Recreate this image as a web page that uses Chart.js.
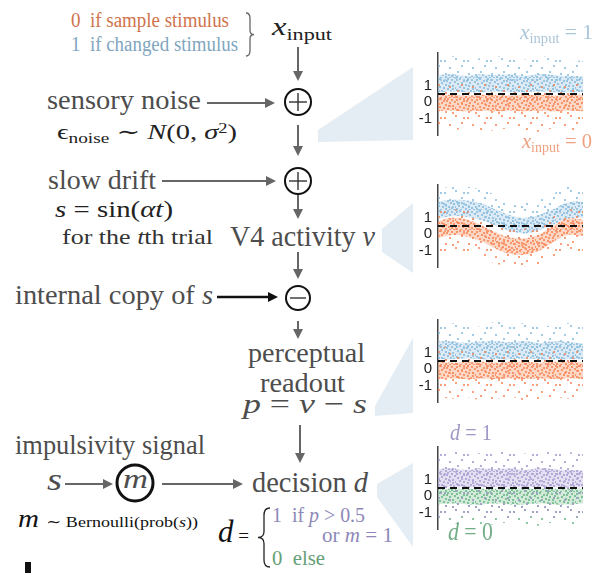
<!DOCTYPE html>
<html>
<head>
<meta charset="utf-8">
<script src="https://cdn.jsdelivr.net/npm/chart.js"></script>
<style>
  body { margin: 0; background: #fff; }
  #stage { position: relative; width: 602px; height: 573px; overflow: hidden; }
  #stage svg { position: absolute; left: 0; top: 0; }
  #stage canvas { position: absolute; left: 396px; }
  .lbl { position: absolute; white-space: nowrap; line-height: 1; font-family: 'Liberation Serif', 'DejaVu Serif', serif; transform-origin: 0 0; }
  .sb { font-size: 0.68em; position: relative; top: 0.28em; }
  .sp { font-size: 0.65em; position: relative; top: -0.45em; }
  .sm { font-size: 0.62em; }
</style>
</head>
<body>
<div id="stage">
  <svg width="602" height="573">
    <!-- light funnels toward the panels -->
    <polygon points="318,130 413,67 413,140 318,142" fill="#e4edf3"/>
    <polygon points="413,203 382,229 382,252 413,273" fill="#e4edf3"/>
    <polygon points="375,406 413,338 413,413 375,416" fill="#e4edf3"/>
    <polygon points="413,463 377,484 377,497 413,547" fill="#e4edf3"/>
    <g id="arrows"></g>
    <!-- sum / diff nodes -->
    <g fill="none" stroke="#111" stroke-width="2">
      <circle cx="298" cy="102" r="13"/>
      <circle cx="298" cy="181" r="13"/>
      <circle cx="298" cy="298" r="12"/>
      <circle cx="135" cy="483" r="18" stroke-width="3"/>
    </g>
    <g stroke="#333" stroke-width="1.4">
      <line x1="289" y1="102" x2="307" y2="102"/><line x1="298" y1="93" x2="298" y2="111"/>
      <line x1="289" y1="181" x2="307" y2="181"/><line x1="298" y1="172" x2="298" y2="190"/>
      <line x1="290" y1="298" x2="306" y2="298"/>
    </g>
    <path id="braceTop" fill="none" stroke="#666" stroke-width="1.3"/>
    <path id="braceBot" fill="none" stroke="#222" stroke-width="1.3"/>
    <rect x="25" y="562" width="6" height="11" fill="#111"/>
  </svg>
  <canvas id="c1" width="204" height="112" style="top:38px"></canvas>
  <canvas id="c2" width="204" height="112" style="top:170px"></canvas>
  <canvas id="c3" width="204" height="112" style="top:305px"></canvas>
  <canvas id="c4" width="204" height="112" style="top:432px"></canvas>
</div>
<script>
// ---- data ----
const trialPos = [0, 0.1, 0.2, 0.3, 0.4, 0.5, 0.6, 0.7, 0.8, 0.9, 1.0];
const tickVals = [-1, 0, 1];
const tickLabels = ['-1', '0', '1'];
const yMin = -2;
const yMax = 3;
const threshold = 0.5;

// sensory noise panel (x_input = 1 blue, x_input = 0 orange)
const p1BlueTailHi = [2.7, 2.8, 2.6, 2.7, 2.8, 2.7, 2.6, 2.8, 2.7, 2.6, 2.5];
const p1BlueCoreHi = [1.65, 1.7, 1.6, 1.7, 1.65, 1.7, 1.6, 1.7, 1.65, 1.6, 1.6];
const p1BlueCoreLo = [0.6, 0.65, 0.6, 0.6, 0.65, 0.6, 0.6, 0.65, 0.6, 0.6, 0.6];
const p1BlueTailLo = [0.1, 0.15, 0.1, 0.1, 0.15, 0.1, 0.1, 0.15, 0.1, 0.1, 0.1];
const p1OrangeTailHi = [1.3, 1.2, 1.3, 1.2, 1.3, 1.2, 1.3, 1.3, 1.2, 1.3, 1.2];
const p1OrangeCoreHi = [0.45, 0.45, 0.4, 0.45, 0.45, 0.4, 0.45, 0.45, 0.4, 0.45, 0.45];
const p1OrangeCoreLo = [-0.55, -0.5, -0.55, -0.5, -0.55, -0.5, -0.55, -0.5, -0.55, -0.5, -0.55];
const p1OrangeTailLo = [-1.6, -1.7, -1.6, -1.8, -1.7, -1.6, -1.7, -1.8, -1.6, -1.7, -1.7];

// V4 activity panel (with slow drift)
const p2BlueTailHi = [2.8, 2.9, 2.9, 2.7, 2.4, 2.0, 1.9, 2.1, 2.5, 2.9, 2.9];
const p2BlueCoreHi = [2.0, 2.1, 2.05, 1.85, 1.5, 1.15, 1.0, 1.2, 1.55, 1.95, 2.0];
const p2BlueCoreLo = [0.95, 1.1, 1.05, 0.85, 0.5, 0.2, 0.05, 0.25, 0.6, 0.95, 1.0];
const p2BlueTailLo = [0.5, 0.6, 0.6, 0.4, 0.0, -0.3, -0.4, -0.2, 0.1, 0.5, 0.5];
const p2OrangeTailHi = [1.4, 1.5, 1.4, 1.1, 0.7, 0.4, 0.35, 0.6, 1.1, 1.5, 1.5];
const p2OrangeCoreHi = [0.8, 1.0, 0.9, 0.55, 0.1, -0.2, -0.25, 0.0, 0.55, 0.95, 0.9];
const p2OrangeCoreLo = [-0.25, -0.05, -0.15, -0.45, -0.9, -1.2, -1.25, -1.0, -0.45, -0.05, -0.1];
const p2OrangeTailLo = [-1.2, -1.0, -1.1, -1.4, -1.8, -1.95, -1.95, -1.8, -1.4, -1.0, -1.1];

// perceptual readout panel
const p3BlueTailHi = [2.6, 2.8, 2.7, 2.6, 2.9, 2.7, 2.8, 2.6, 2.7, 2.8, 2.6];
const p3BlueCoreHi = [1.7, 1.7, 1.6, 1.7, 1.7, 1.65, 1.7, 1.6, 1.7, 1.65, 1.6];
const p3BlueCoreLo = [0.6, 0.6, 0.65, 0.6, 0.6, 0.6, 0.65, 0.6, 0.6, 0.6, 0.6];
const p3BlueTailLo = [0.1, 0.1, 0.15, 0.1, 0.1, 0.15, 0.1, 0.1, 0.15, 0.1, 0.1];
const p3OrangeTailHi = [1.3, 1.4, 1.2, 1.3, 1.2, 1.3, 1.4, 1.2, 1.3, 1.3, 1.2];
const p3OrangeCoreHi = [0.45, 0.4, 0.45, 0.45, 0.4, 0.45, 0.45, 0.4, 0.45, 0.45, 0.4];
const p3OrangeCoreLo = [-0.6, -0.55, -0.6, -0.55, -0.6, -0.55, -0.6, -0.55, -0.6, -0.55, -0.6];
const p3OrangeTailLo = [-1.7, -1.8, -1.7, -1.9, -1.8, -1.7, -1.9, -1.8, -1.7, -1.8, -1.8];

// decision panel (d = 1 purple, d = 0 green)
const p4PurpleTailHi = [2.6, 2.7, 2.8, 2.6, 2.7, 2.8, 2.6, 2.7, 2.8, 2.7, 2.6];
const p4PurpleCoreHi = [1.65, 1.7, 1.6, 1.7, 1.65, 1.7, 1.6, 1.7, 1.65, 1.6, 1.6];
const p4PurpleCoreLo = [0.55, 0.55, 0.55, 0.55, 0.55, 0.55, 0.55, 0.55, 0.55, 0.55, 0.55];
const p4PurpleLowHi = [0.5, 0.5, 0.5, 0.5, 0.5, 0.5, 0.5, 0.5, 0.5, 0.5, 0.5];
const p4PurpleLowLo = [-1.3, -1.4, -1.2, -1.4, -1.3, -1.4, -1.3, -1.2, -1.4, -1.3, -1.3];
const p4GreenTailHi = [0.48, 0.48, 0.48, 0.48, 0.48, 0.48, 0.48, 0.48, 0.48, 0.48, 0.48];
const p4GreenCoreHi = [0.45, 0.45, 0.45, 0.45, 0.45, 0.45, 0.45, 0.45, 0.45, 0.45, 0.45];
const p4GreenCoreLo = [-0.5, -0.45, -0.5, -0.5, -0.45, -0.5, -0.5, -0.45, -0.5, -0.5, -0.45];
const p4GreenTailLo = [-1.6, -1.7, -1.6, -1.8, -1.7, -1.6, -1.7, -1.8, -1.6, -1.7, -1.7];

// ---- dot textures so the bands look like scatter clouds ----
// hand placed speckle positions inside a tile (no grid look)
const denseSpots = [[0,1],[3,0],[7,2],[11,0],[15,1],[18,3],[1,5],[5,4],[9,6],[13,4],[16,7],[19,9],
    [3,8],[7,9],[11,10],[14,12],[0,11],[5,12],[9,14],[17,13],[2,15],[6,16],[12,16],[15,17],[19,16],
    [0,18],[4,19],[9,18],[13,19],[17,19],[10,2],[7,13],[12,7],[16,10],[2,12]];
const sparseSpots = [[2,3],[13,1],[19,8],[7,10],[15,14],[3,16],[10,17],[21,3]];

const dotPattern = (dot, base, spots, tw, th) => {
    const c = document.createElement('canvas');
    c.width = tw; c.height = th;
    const g = c.getContext('2d');
    if (base) { g.fillStyle = base; g.fillRect(0, 0, tw, th); }
    g.fillStyle = dot;
    spots.forEach(([x, y]) => g.fillRect(x, y, 2, 2));
    return g.createPattern(c, 'repeat');
};

const dense = (dot, base) => dotPattern(dot, base, denseSpots, 20, 20);
const sparse = (dot) => dotPattern(dot, null, sparseSpots, 23, 19);

const blueDense = dense('rgba(140,190,222,0.85)', 'rgba(170,206,230,0.42)');
const blueSparse = sparse('rgba(140,190,222,0.8)');
const orangeDense = dense('rgba(248,138,92,0.85)', 'rgba(250,160,120,0.42)');
const orangeSparse = sparse('rgba(248,138,92,0.8)');
const purpleDense = dense('rgba(172,162,212,0.85)', 'rgba(190,182,224,0.42)');
const purpleSparse = sparse('rgba(165,155,208,0.8)');
const greenDense = dense('rgba(112,186,138,0.85)', 'rgba(140,200,160,0.38)');
const greenSparse = sparse('rgba(112,186,138,0.8)');

// one band = upper edge filled down to lower edge
const band = (hi, lo, fillStyle, order) => [
    { data: trialPos.map((x, i) => ({x: x, y: hi[i]})), fill: '+1', backgroundColor: fillStyle,
      borderWidth: 0, pointRadius: 0, tension: 0.4, order: order },
    { data: trialPos.map((x, i) => ({x: x, y: lo[i]})), fill: false,
      borderWidth: 0, pointRadius: 0, tension: 0.4, order: order }
];

const dashLine = {
    data: [{x: 0, y: threshold}, {x: 1, y: threshold}],
    borderColor: '#111', borderWidth: 2, borderDash: [7, 5], pointRadius: 0, fill: false, order: 0
};

const drawPanel = (id, bands) => {
    let datasets = [];
    bands.forEach((b, k) => { datasets = datasets.concat(band(b[0], b[1], b[2], 20 - k)); });
    datasets.push(dashLine);
    new Chart(document.getElementById(id), {
        type: 'line',
        data: { datasets: datasets },
        options: {
            responsive: false,
            animation: false,
            layout: { padding: { left: 0, right: 17, top: 0, bottom: 0 } },
            plugins: { legend: { display: false }, tooltip: { enabled: false } },
            scales: {
                x: { type: 'linear', min: 0, max: 1, display: false },
                y: {
                    min: yMin, max: yMax,
                    afterBuildTicks: (s) => { s.ticks = tickVals.map(v => ({value: v})); },
                    afterFit: (s) => { s.width = 42; },
                    grid: { display: false, drawTicks: false },
                    border: { display: true, color: '#444', width: 1.5 },
                    ticks: {
                        callback: (v) => tickLabels[tickVals.indexOf(v)],
                        color: '#222', padding: 6,
                        font: { family: 'Liberation Sans', size: 15 }
                    }
                }
            }
        }
    });
};

drawPanel('c1', [
    [p1BlueTailHi, p1BlueTailLo, blueSparse], [p1BlueCoreHi, p1BlueCoreLo, blueDense],
    [p1OrangeTailHi, p1OrangeTailLo, orangeSparse], [p1OrangeCoreHi, p1OrangeCoreLo, orangeDense]
]);
drawPanel('c2', [
    [p2BlueTailHi, p2BlueTailLo, blueSparse], [p2BlueCoreHi, p2BlueCoreLo, blueDense],
    [p2OrangeTailHi, p2OrangeTailLo, orangeSparse], [p2OrangeCoreHi, p2OrangeCoreLo, orangeDense]
]);
drawPanel('c3', [
    [p3BlueTailHi, p3BlueTailLo, blueSparse], [p3BlueCoreHi, p3BlueCoreLo, blueDense],
    [p3OrangeTailHi, p3OrangeTailLo, orangeSparse], [p3OrangeCoreHi, p3OrangeCoreLo, orangeDense]
]);
drawPanel('c4', [
    [p4GreenTailHi, p4GreenTailLo, greenSparse], [p4GreenCoreHi, p4GreenCoreLo, greenDense],
    [p4PurpleTailHi, p4PurpleLowHi, purpleSparse], [p4PurpleCoreHi, p4PurpleCoreLo, purpleDense],
    [p4PurpleLowHi, p4PurpleLowLo, purpleSparse]
]);

// ---- diagram: arrows ----
const svgNS = 'http://www.w3.org/2000/svg';
const arrowsG = document.getElementById('arrows');
const arrow = (x1, y1, x2, y2, color, w) => {
    const len = Math.hypot(x2 - x1, y2 - y1), ux = (x2 - x1) / len, uy = (y2 - y1) / len;
    const hx = x2 - ux * 10, hy = y2 - uy * 10;
    const ln = document.createElementNS(svgNS, 'line');
    ln.setAttribute('x1', x1); ln.setAttribute('y1', y1); ln.setAttribute('x2', hx); ln.setAttribute('y2', hy);
    ln.setAttribute('stroke', color); ln.setAttribute('stroke-width', w);
    arrowsG.appendChild(ln);
    const hd = document.createElementNS(svgNS, 'polygon');
    hd.setAttribute('points', `${x2},${y2} ${hx - uy * 5},${hy + ux * 5} ${hx + uy * 5},${hy - ux * 5}`);
    hd.setAttribute('fill', color);
    arrowsG.appendChild(hd);
};
arrow(298, 47, 298, 81, '#666', 2);
arrow(207, 103, 275, 103, '#666', 2);
arrow(298, 125, 298, 156, '#666', 2);
arrow(162, 181, 276, 181, '#666', 2);
arrow(298, 194, 298, 219, '#666', 2);
arrow(298, 252, 298, 279, '#666', 2);
arrow(217, 297, 278, 297, '#111', 2.5);
arrow(298, 321, 298, 339, '#666', 2);
arrow(300, 425, 300, 463, '#666', 2);
arrow(65, 484, 113, 484, '#666', 2);
arrow(162, 484, 243, 484, '#666', 2);

// braces
const brace = (x0, y0, y1, w) => {
    const m = (y0 + y1) / 2, h = y1 - y0, xm = x0 + w / 2, xt = x0 + w;
    return `M${x0},${y0} Q${xm},${y0} ${xm},${y0 + h * 0.12} L${xm},${m - h * 0.1} Q${xm},${m} ${xt},${m}` +
           ` Q${xm},${m} ${xm},${m + h * 0.1} L${xm},${y1 - h * 0.12} Q${xm},${y1} ${x0},${y1}`;
};
document.getElementById('braceTop').setAttribute('d', brace(246, 13, 56, 8));
document.getElementById('braceBot').setAttribute('d', brace(270, 508, 567, -12));

// ---- text labels ----
const labels = [
    {x: 71, base: 27, w: 158, size: 20, color: '#d0734c', html: '0&nbsp; if sample stimulus'},
    {x: 71, base: 51, w: 167, size: 20, color: '#7fa6bf', html: '1&nbsp; if changed stimulus'},
    {x: 272, base: 36, w: 60, size: 26, color: '#222', html: '<i>x</i><span class="sb">input</span>'},
    {x: 47, base: 109, w: 154, size: 28, color: '#4d4d4d', html: 'sensory noise'},
    {x: 57, base: 140, w: 180, size: 21, color: '#222', html: 'ϵ<span class="sb">noise</span> ∼ <i>N</i>(0, <i>σ</i><span class="sp">2</span>)'},
    {x: 48, base: 189, w: 108, size: 28, color: '#4d4d4d', html: 'slow drift'},
    {x: 55, base: 217, w: 118, size: 24, color: '#222', html: '<i>s</i> = sin(<i>αt</i>)'},
    {x: 62, base: 245, w: 151, size: 21, color: '#333', html: 'for the <i>t</i>th trial'},
    {x: 230, base: 246, w: 145, size: 29, color: '#4d4d4d', html: 'V4 activity <i>v</i>'},
    {x: 15, base: 304, w: 198, size: 28, color: '#4d4d4d', html: 'internal copy of <i>s</i>'},
    {x: 248, base: 362, w: 117, size: 28, color: '#4d4d4d', html: 'perceptual'},
    {x: 260, base: 392, w: 85, size: 28, color: '#4d4d4d', html: 'readout'},
    {x: 243, base: 413, w: 124, size: 28, color: '#4d4d4d', html: '<i>p</i> = <i>v</i> − <i>s</i>'},
    {x: 15, base: 454, w: 190, size: 28, color: '#4d4d4d', html: 'impulsivity signal'},
    {x: 47, base: 490, w: 15, size: 31, color: '#4d4d4d', html: '<i>s</i>'},
    {x: 123, base: 489, w: 25, size: 27, color: '#4d4d4d', html: '<i>m</i>'},
    {x: 252, base: 492, w: 116, size: 29, color: '#4d4d4d', html: 'decision <i>d</i>'},
    {x: 18, base: 527, w: 180, size: 25, color: '#111', html: '<i>m</i> <span class="sm">∼ Bernoulli(prob(<i>s</i>))</span>'},
    {x: 218, base: 542, w: 31, size: 31, color: '#111', html: '<i>d</i><span class="sm"> =</span>'},
    {x: 272, base: 522, w: 93, size: 20, color: '#8d88b8', html: '1&nbsp; if <i>p</i> &gt; 0.5'},
    {x: 322, base: 542, w: 71, size: 20, color: '#8d88b8', html: 'or <i>m</i> = 1'},
    {x: 272, base: 565, w: 53, size: 20, color: '#65a077', html: '0&nbsp; else'},
    {x: 520, base: 39, w: 73, size: 22, color: '#a9c6da', html: '<i>x</i><span class="sb">input</span> = 1'},
    {x: 522, base: 148, w: 70, size: 22, color: '#efa07e', html: '<i>x</i><span class="sb">input</span> = 0'},
    {x: 450, base: 440, w: 42, size: 23, color: '#9f99c6', html: '<i>d</i> = 1'},
    {x: 448, base: 540, w: 45, size: 25, color: '#72ad86', html: '<i>d</i> = 0'}
];

const stage = document.getElementById('stage');
labels.forEach(l => {
    const el = document.createElement('div');
    el.className = 'lbl';
    el.innerHTML = l.html;
    el.style.left = l.x + 'px';
    el.style.top = (l.base - 0.837 * l.size) + 'px';
    el.style.fontSize = l.size + 'px';
    el.style.color = l.color;
    stage.appendChild(el);
    const w = el.getBoundingClientRect().width;
    el.style.transform = `scaleX(${l.w / w})`;
});
</script>
</body>
</html>
